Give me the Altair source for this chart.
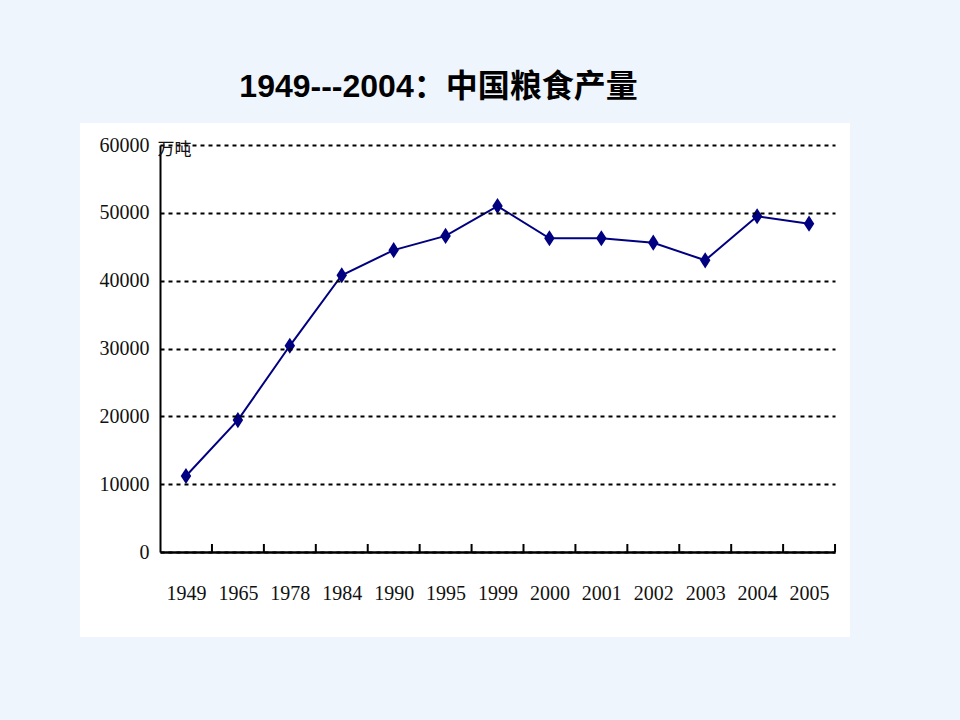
import altair as alt
import pandas as pd

years = ["1949", "1965", "1978", "1984", "1990", "1995", "1999",
         "2000", "2001", "2002", "2003", "2004", "2005"]
output = [11200, 19450, 30400, 40800, 44500, 46600, 51000,
          46250, 46250, 45600, 43000, 49500, 48400]
y_ticks = [0, 10000, 20000, 30000, 40000, 50000, 60000]

df = pd.DataFrame({"year": years, "output": output})

W, H = 675, 407

xscale = alt.Scale(type="point", padding=0.5, domain=years)
yscale = alt.Scale(domain=[0, 60000])

panel = alt.Chart(df).mark_rect(color="white").encode(
    x=alt.value(-80), x2=alt.value(690), y=alt.value(-22), y2=alt.value(492)
).transform_filter("datum.year == '1949'")

line = alt.Chart(df).mark_line(color="#000080", strokeWidth=2).encode(
    x=alt.X("year:O", scale=xscale, sort=years,
            axis=alt.Axis(title=None, labelAngle=0, labelFont="Liberation Serif",
                          labelFontSize=20, labelColor="#111", labelPadding=31,
                          ticks=False, domainColor="black", domainWidth=2.5,
                          grid=False, zindex=1)),
    y=alt.Y("output:Q", scale=yscale,
            axis=alt.Axis(values=y_ticks, format="d", title="万吨", titleAngle=0,
                          titleX=-3, titleY=4, titleAlign="left", titleBaseline="middle",
                          titleFont="Noto Sans CJK SC", titleFontWeight="normal",
                          titleFontSize=17, titleColor="#111",
                          labelFont="Liberation Serif", labelFontSize=20,
                          labelColor="#111", labelPadding=11, ticks=False,
                          domainColor="black", domainWidth=2,
                          grid=True, gridColor="black", gridDash=[4, 4],
                          gridWidth=2, zindex=1)),
)

points = alt.Chart(df).mark_point(
    shape="M0,-1L0.65,0L0,1L-0.65,0Z", filled=True, color="#000080",
    opacity=1, size=260
).encode(
    x=alt.X("year:O", scale=xscale, sort=years),
    y=alt.Y("output:Q", scale=yscale),
)

ticks = alt.Chart(df).mark_rule(color="black", strokeWidth=2).encode(
    x=alt.X("year:O", scale=xscale, sort=years),
    xOffset=alt.value(26),
    y=alt.value(H - 8), y2=alt.value(H),
)

chart = alt.layer(panel, line, ticks, points).properties(
    width=W, height=H,
    title=alt.TitleParams("1949---2004：中国粮食产量",
                          font="Liberation Sans, Noto Sans CJK SC",
                          fontSize=32, fontWeight="bold", color="black",
                          anchor="middle", dx=-59, offset=19),
    autosize=alt.AutoSizeParams(type="none"),
    padding={"left": 160, "top": 145, "right": 125, "bottom": 168},
    background="#EEF5FD",
).configure_view(stroke=None)

chart.save("out.html", embed_options={"renderer": "svg", "actions": False})
